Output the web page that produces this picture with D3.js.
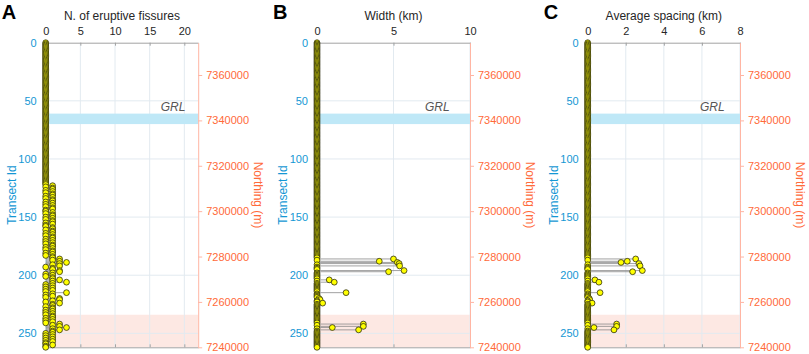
<!DOCTYPE html>
<html>
<head>
<meta charset="utf-8">
<script src="https://cdn.jsdelivr.net/npm/d3@7"></script>
<style>
body { margin: 0; background: #fff; }
svg text { font-family: "Liberation Sans", Arial, sans-serif; }
</style>
</head>
<body>
<svg id="mainsvg" width="809" height="354"></svg>
<script>
const svg = d3.select('#mainsvg');

// number of eruptive fissures, one value per transect id (0..262)
const fissureCounts = [
  0,0,0,0,0,0,0,0,0,0, 0,0,0,0,0,0,0,0,0,0,
  0,0,0,0,0,0,0,0,0,0, 0,0,0,0,0,0,0,0,0,0,
  0,0,0,0,0,0,0,0,0,0, 0,0,0,0,0,0,0,0,0,0,
  0,0,0,0,0,0,0,0,0,0, 0,0,0,0,0,0,0,0,0,0,
  0,0,0,0,0,0,0,0,0,0, 0,0,0,0,0,0,0,0,0,0,
  0,0,0,0,0,0,0,0,0,0, 0,0,0,0,0,0,0,0,0,0,
  0,0,0,1,0,1,1,0,1,0,                       // 120-129
  1,1,0,1,0,1,1,0,1,0, 1,0,1,1,0,0,1,0,1,1,  // 130-149
  0,1,0,1,1,0,1,0,0,1, 1,0,1,1,0,1,0,1,1,0,  // 150-169
  1,0,1,0,1,1,0,1,0,1, 1,0,1,0,1,1,2,1,2,3,  // 170-189
  2,1,2,0,1,1,2,2,1,0, 1,0,1,1,2,1,3,1,0,1,  // 190-209
  0,1,0,1,0,3,1,0,1,0, 2,2,1,0,2,1,1,0,1,1,  // 210-229
  0,1,0,1,0,1,1,0,1,0, 1,0,2,1,2,3,1,2,1,1,  // 230-249
  0,1,0,1,0,1,0,1,0,0, 1,0,0                 // 250-262
];

// transects with a measurable width / spacing
const measuredTransects = [186, 188, 189, 190, 192, 196, 197, 204, 206, 215, 220, 221, 224, 242, 244, 245, 247];
const widthKm   = [5.0, 4.07, 5.25, 5.37, 5.4, 5.69, 4.68, 0.8, 1.13, 1.9, 0.13, 0.2, 0.37, 3.03, 3.03, 1.0, 2.72];
const spacingKm = [2.52, 2.08, 1.75, 2.69, 2.75, 2.87, 2.36, 0.38, 0.59, 0.65, 0.08, 0.1, 0.23, 1.52, 1.52, 0.33, 1.38];

const xTicksA = [0, 5, 10, 15, 20];
const xTicksB = [0, 5, 10];
const xTicksC = [0, 2, 4, 6, 8];
const transectTicks = [0, 50, 100, 150, 200, 250];
const northingTicks = [7240000, 7260000, 7280000, 7300000, 7320000, 7340000, 7360000];
const grlBand = [61, 70];
const pinkBand = [234, 262];

const nTransects = fissureCounts.length;
const fullSeries = vals => {
  const s = fissureCounts.map(() => 0);
  measuredTransects.forEach((t, i) => { s[t] = vals[i]; });
  return s;
};

const panels = [
  { letter: 'A', title: 'N. of eruptive fissures', left: 45.7, right: 198.2, xmax: 22, ticks: xTicksA, values: fissureCounts, grlX: 16.6 },
  { letter: 'B', title: 'Width (km)', left: 317, right: 470, xmax: 10, ticks: xTicksB, values: fullSeries(widthKm), grlX: 7.06 },
  { letter: 'C', title: 'Average spacing (km)', left: 587.7, right: 740, xmax: 8, ticks: xTicksC, values: fullSeries(spacingKm), grlX: 5.9 }
];

const plotTop = 42.7, plotBottom = 347.3;
const blue = '#1497d4', orange = '#ff6a3a';
const yScale = d3.scaleLinear().domain([0, nTransects - 1]).range([plotTop, plotBottom]);
const northing = d3.scaleLinear().domain([7240000, 7374240]).range([plotBottom, plotTop]);

panels.forEach(p => {
  const x = d3.scaleLinear().domain([0, p.xmax]).range([p.left, p.right]);
  const g = svg.append('g');

  // shaded bands
  g.append('rect').attr('x', p.left).attr('width', p.right - p.left)
    .attr('y', yScale(pinkBand[0])).attr('height', yScale(pinkBand[1]) - yScale(pinkBand[0]))
    .attr('fill', '#fde8e3');

  // grid
  g.selectAll('.vgrid').data(p.ticks.filter(d => d > 0)).join('line').attr('class', 'vgrid')
    .attr('x1', d => x(d)).attr('x2', d => x(d)).attr('y1', plotTop).attr('y2', plotBottom)
    .attr('stroke', '#e2eaf0').attr('stroke-width', 1);
  g.selectAll('.hgrid').data(transectTicks.filter(d => d > 0)).join('line').attr('class', 'hgrid')
    .attr('x1', p.left).attr('x2', p.right).attr('y1', d => yScale(d)).attr('y2', d => yScale(d))
    .attr('stroke', '#e2eaf0').attr('stroke-width', 1);

  g.append('rect').attr('x', p.left).attr('width', p.right - p.left)
    .attr('y', yScale(grlBand[0])).attr('height', yScale(grlBand[1]) - yScale(grlBand[0]))
    .attr('fill', '#bfe8f7');

  g.append('text').attr('x', x(p.grlX)).attr('y', yScale(58.5))
    .attr('font-size', 12).attr('font-style', 'italic').attr('fill', '#555')
    .text('GRL');

  // top / bottom axes
  const xTop = g.append('g').attr('transform', `translate(0,${plotTop})`)
    .call(d3.axisTop(x).tickValues(p.ticks).tickSize(-3).tickPadding(8).tickSizeOuter(0));
  xTop.selectAll('text').attr('font-size', 11).attr('fill', '#262626');
  xTop.selectAll('line, path').attr('stroke', '#a3a3a3');

  const xBot = g.append('g').attr('transform', `translate(0,${plotBottom})`)
    .call(d3.axisBottom(x).tickValues(p.ticks).tickSize(-3).tickFormat('').tickSizeOuter(0));
  xBot.selectAll('line, path').attr('stroke', '#a3a3a3');

  // right axis: northing
  const yRight = g.append('g').attr('transform', `translate(${p.right},0)`)
    .call(d3.axisRight(northing).tickValues(northingTicks).tickFormat(d3.format('d'))
      .tickSize(4).tickPadding(4).tickSizeOuter(0));
  yRight.selectAll('line, path').attr('stroke', '#ffb5a3');
  yRight.selectAll('text').attr('font-size', 11).attr('fill', orange);

  // left axis: transect id
  const yLeft = g.append('g').attr('transform', `translate(${p.left},0)`)
    .call(d3.axisLeft(yScale).tickValues(transectTicks).tickSize(0).tickPadding(9).tickSizeOuter(0));
  yLeft.selectAll('path').attr('stroke', '#8ccfee');
  yLeft.selectAll('text').attr('font-size', 11).attr('fill', blue);

  // stems and markers
  const rows = p.values.map((v, i) => ({ t: i, v: v }));
  g.selectAll('.stem').data(rows.filter(d => d.v > 0)).join('line').attr('class', 'stem')
    .attr('x1', x(0)).attr('x2', d => x(d.v))
    .attr('y1', d => yScale(d.t)).attr('y2', d => yScale(d.t))
    .attr('stroke', '#8a8a8a').attr('stroke-width', 0.8);
  g.selectAll('.mark').data(rows).join('circle').attr('class', 'mark')
    .attr('cx', d => x(d.v)).attr('cy', d => yScale(d.t)).attr('r', 2.9)
    .attr('fill', '#ffff00').attr('stroke', '#2e2e10').attr('stroke-width', 0.8);

  // labels
  svg.append('text').attr('x', (p.left + p.right) / 2).attr('y', 20)
    .attr('text-anchor', 'middle').attr('font-size', 12).attr('fill', '#262626')
    .text(p.title);
  svg.append('text').attr('x', p.left - 44).attr('y', 19)
    .attr('font-size', 20).attr('font-weight', 'bold').attr('fill', '#000')
    .text(p.letter);
  svg.append('text')
    .attr('transform', `translate(${p.left - 30},${(plotTop + plotBottom) / 2}) rotate(-90)`)
    .attr('text-anchor', 'middle').attr('font-size', 12).attr('fill', blue)
    .text('Transect Id');
  svg.append('text')
    .attr('transform', `translate(${p.right + 56},${(plotTop + plotBottom) / 2}) rotate(90)`)
    .attr('text-anchor', 'middle').attr('font-size', 12).attr('fill', orange)
    .text('Northing (m)');
});
</script>
</body>
</html>
